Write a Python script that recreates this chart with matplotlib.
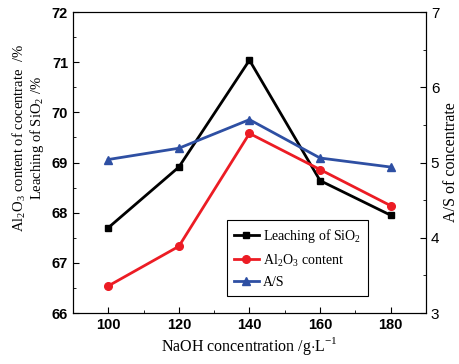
import numpy as np
import matplotlib
matplotlib.use("Agg")
import matplotlib.pyplot as plt
from matplotlib.ticker import MultipleLocator

naoh = [100, 120, 140, 160, 180]
sio2_leaching = [67.70, 68.91, 71.04, 68.64, 67.95]
al2o3_content = [66.54, 67.33, 69.58, 68.86, 68.14]
a_s_ratio = [5.04, 5.19, 5.57, 5.06, 4.94]

serif = "Liberation Serif"
sans = "Liberation Sans"
red = "#ec1c24"
blue = "#2e4fa3"

plt.rcParams["mathtext.fontset"] = "custom"
plt.rcParams["mathtext.rm"] = serif

fig = plt.figure(figsize=(4.59, 3.64), dpi=100)
ax = fig.add_axes([0.159, 0.140, 0.769, 0.827])
ax2 = ax.twinx()

l1, = ax.plot(naoh, sio2_leaching, color="black", marker="s", ms=5, lw=2,
              label="Leaching of SiO$_2$")
l2, = ax.plot(naoh, al2o3_content, color=red, marker="o", ms=5.5, lw=2,
              label="Al$_2$O$_3$ content")
l3, = ax2.plot(naoh, a_s_ratio, color=blue, marker="^", ms=5.5, lw=2,
               label="A/S")

ax.set_xlim(90, 190)
ax.set_ylim(66, 72)
ax2.set_ylim(3, 7)
ax.set_xticks(naoh)
ax.xaxis.set_minor_locator(MultipleLocator(10))
ax.yaxis.set_minor_locator(MultipleLocator(0.5))
ax2.yaxis.set_major_locator(MultipleLocator(1))
ax2.yaxis.set_minor_locator(MultipleLocator(0.5))

ax.tick_params(which="both", direction="in", top=False)
ax.tick_params(which="major", length=4)
ax.tick_params(which="minor", length=2)
ax2.tick_params(which="both", direction="in")
ax2.tick_params(which="major", length=4)
ax2.tick_params(which="minor", length=2)

for lab in ax.get_xticklabels() + ax.get_yticklabels():
    lab.set_fontfamily(sans)
    lab.set_fontweight("bold")
    lab.set_fontsize(10.5)
for lab in ax2.get_yticklabels():
    lab.set_fontfamily(sans)
    lab.set_fontsize(11)

ax.set_xlabel("NaOH concentration /g$\\cdot$L$^{-1}$", family=serif, fontsize=11.5,
              labelpad=2)
# two-line left label, sits a bit above the axes centre like the original
fig.text(0.061, 0.621,
         "Al$_2$O$_3$ content of cocentrate  /%\nLeaching of SiO$_2$ /%",
         family=serif, fontsize=10.5, linespacing=1.0, rotation=90,
         ha="center", va="center", multialignment="center")
ax2.set_ylabel("A/S of concentrate", family=serif, fontsize=11.5, labelpad=3)

leg = ax.legend(handles=[l1, l2, l3], loc="lower right",
                bbox_to_anchor=(0.836, 0.056), borderaxespad=0,
                prop={"family": serif, "size": 10},
                fancybox=False, edgecolor="black", framealpha=1,
                handlelength=1.8, handletextpad=0.3, borderpad=0.5,
                labelspacing=0.55)
leg.get_frame().set_linewidth(0.8)

fig.savefig("out.png", dpi=100)
